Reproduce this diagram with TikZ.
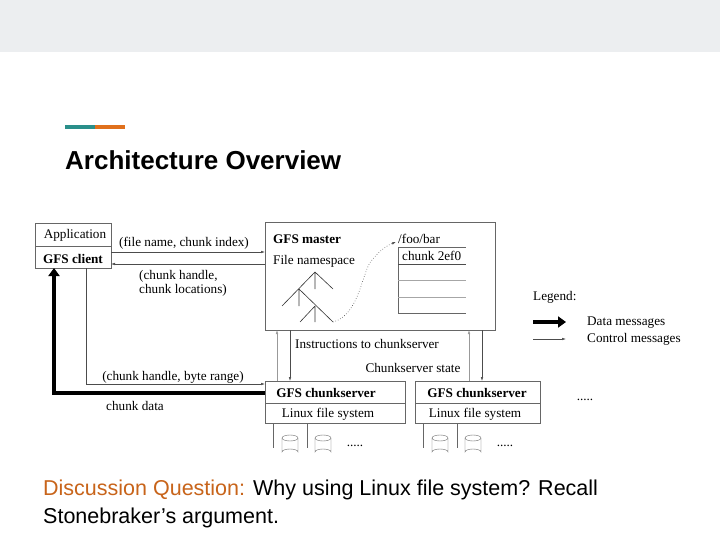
\documentclass[tikz,border=0pt]{standalone}
\usepackage{fontspec}
\setmainfont{Liberation Serif}
\newfontfamily\sans{Liberation Sans}
\usetikzlibrary{arrows.meta}
\definecolor{band}{HTML}{ECEEF0}
\definecolor{teal}{HTML}{2A8F8A}
\definecolor{accent}{HTML}{E0701C}
\definecolor{qcol}{HTML}{C8641A}
\begin{document}
\begin{tikzpicture}[x=1pt,y=-1pt,
  lbl/.style={font=\fontsize{13.2}{14}\selectfont,inner sep=0pt},
  bl/.style={lbl,font=\bfseries\fontsize{13.2}{14}\selectfont},
  box/.style={draw=black!60,line width=0.5pt},
  ctrl/.style={draw=black!70,line width=0.5pt,-{Latex[length=4pt,width=2.5pt]}},
  data/.style={draw=black,line width=4pt,-{Triangle[length=8pt,width=11pt]}}]
\useasboundingbox (0,0) rectangle (720,540);
\fill[white] (0,0) rectangle (720,540);
% header
\fill[band] (0,0) rectangle (720,52);
\draw[teal,line width=3.5pt] (65,127) -- (95,127);
\draw[accent,line width=3.5pt] (95,127) -- (125,127);
\node[anchor=base west,inner sep=0pt,font=\sans\bfseries\fontsize{26}{30}\selectfont] (title) at (65,170) {Architecture Overview};
% client
\draw[box] (35,223) rectangle (111,268);
\draw[box] (35,246) -- (111,246);
\node[lbl] (app) at (75,235) {Application};
\node[bl] (client) at (73,259) {GFS client};
% master
\draw[box] (265,222) rectangle (495,330);
\node[bl,anchor=west] (gm) at (273,239) {GFS master};
\node[lbl,anchor=west] (fns) at (273,261) {File namespace};
\node[lbl,anchor=west] (foo) at (398,239) {/foo/bar};
\node[lbl,anchor=west] (c2) at (402,256) {chunk 2ef0};
\draw[box] (398,247) -- (466,247);
\draw[box] (398,247) -- (398,313) -- (466,313);
\draw[black!70,line width=0.6pt] (398,264) -- (466,264);
\draw[black!35] (398,280) -- (466,280) (398,297) -- (466,297);
% tree
\draw[black!80,line width=0.6pt] (282,306) -- (315,272) -- (333,289) (315,272) -- (315,289)
  (299,289) -- (299,306) (299,289) -- (333,322) (315,306) -- (300,322) (315,306) -- (315,322);
\draw[black!70,dotted,line width=0.6pt,-{Latex[length=4pt,width=2.5pt]}] (333,322) .. controls (360,315) and (362,270) .. (372,260) .. controls (380,250) and (388,245) .. (396,242);
% client <-> master
\coordinate (cm1) at (111,252); \coordinate (cm2) at (265,252);
\draw[ctrl] (cm1) -- (cm2);
\node[lbl] (fn) at (184,243) {(file name, chunk index)};
\coordinate (mc1) at (265,264); \coordinate (mc2) at (111,264);
\draw[ctrl] (mc1) -- (mc2);
\node[lbl,align=left] (ch) at (183,283) {(chunk handle,\\ chunk locations)};
% chunkservers
\draw[box] (265,381) rectangle (405,423); \draw[box] (265,403) -- (405,403);
\node[bl] (cs1) at (326,393) {GFS chunkserver};
\node[lbl] (lfs1) at (328,414) {Linux file system};
\draw[box] (415,381) rectangle (540,423); \draw[box] (415,403) -- (540,403);
\node[bl] (cs2) at (477,393) {GFS chunkserver};
\node[lbl] (lfs2) at (475,414) {Linux file system};
% client <-> chunkserver
\coordinate (a1) at (86,268); \coordinate (a2) at (86,384); \coordinate (a3) at (265,384);
\draw[ctrl] (a1) -- (a2) -- (a3);
\node[lbl] (br) at (173,377) {(chunk handle, byte range)};
\coordinate (d1) at (265,393); \coordinate (d2) at (54,393); \coordinate (d3) at (54,268);
\draw[data] (d1) -- (d2) -- (d3);
\node[lbl] (cd) at (135,406) {chunk data};
% master <-> chunkservers
\draw[ctrl,draw=black!40] (277,381) -- (277,330);
\draw[ctrl] (290,330) -- (290,381);
\draw[ctrl,draw=black!40] (469,381) -- (469,330);
\draw[ctrl] (482,330) -- (482,381);
\node[lbl] (ins) at (367,344) {Instructions to chunkserver};
\node[lbl] (st) at (413,368) {Chunkserver state};
% disks
\foreach \lx/\cx in {273/290,307/323,423/440,457/473}{
  \draw[black!60] (\lx,423) -- (\lx,448);
  \draw[black!60] (\cx-8,438) -- (\cx-8,452) arc[start angle=180,end angle=360,x radius=8,y radius=3] -- (\cx+8,438);
  \draw[black!60] (\cx,438) ellipse[x radius=8,y radius=3];
}
\node[lbl] (dots1) at (355,446) {.....};
\node[lbl] (dots2) at (505,446) {.....};
\node[lbl] (dots3) at (585,400) {.....};
% legend
\node[lbl,anchor=west] (leg) at (533,297) {Legend:};
\coordinate (l1) at (533,322); \coordinate (l2) at (566,322);
\draw[data,line width=3.5pt] (l1) -- (l2);
\coordinate (l3) at (533,339); \coordinate (l4) at (566,339);
\draw[ctrl] (l3) -- (l4);
\node[lbl,anchor=west] (dm) at (587,323) {Data messages};
\node[lbl,anchor=west] (cmm) at (587,339) {Control messages};
% question
\node[anchor=base west,inner sep=0pt,font=\sans\fontsize{21.5}{26}\selectfont] (q1) at (43,495) {\textcolor{qcol}{Discussion Question:} Why using Linux file system? Recall};
\node[anchor=base west,inner sep=0pt,font=\sans\fontsize{21.5}{26}\selectfont] (q2) at (43,523) {Stonebraker’s argument.};
\end{tikzpicture}
\end{document}
